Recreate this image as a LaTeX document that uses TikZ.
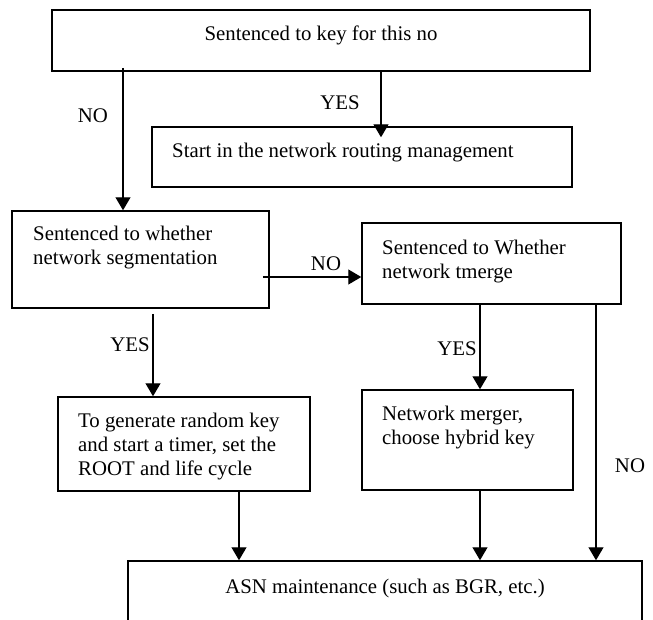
\documentclass[tikz,border=0pt]{standalone}
\usepackage{fontspec}
\setmainfont{Liberation Serif}
\usetikzlibrary{arrows.meta}

\begin{document}
\begin{tikzpicture}[x=1pt,y=-1pt,
  every node/.style={font=\fontsize{20.8}{24}\selectfont},
  box/.style={draw, line width=1.5pt, inner sep=0pt},
  txt/.style={inner sep=0pt},
  lbl/.style={inner sep=0pt},
  arr/.style={line width=1.3pt, -{Triangle[length=13pt,width=15pt]}}]

% page frame
\clip (0,0) rectangle (653,619);

% boxes
\node[box, minimum width=538, minimum height=61]  (top)    at (321,40.5)  {};
\node[box, minimum width=420, minimum height=60]  (start)  at (362,157)   {};
\node[box, minimum width=257, minimum height=97]  (seg)    at (140.5,259.5) {};
\node[box, minimum width=259, minimum height=81]  (merge)  at (491.5,263.5) {};
\node[box, minimum width=252, minimum height=94]  (rand)   at (184,444)   {};
\node[box, minimum width=211, minimum height=100] (merger) at (467.5,440) {};
\node[box, minimum width=514, minimum height=80]  (asn)    at (385,601)   {};

% box texts
\node[txt, anchor=base] (ttop) at (321,40) {Sentenced to key for this no};
\node[txt, anchor=base west] (tstart) at (172,157) {Start in the network routing management};
\node[txt, anchor=base west] (tseg) at (33,240)
  {\begin{tabular}[t]{@{}l@{}}Sentenced to whether\\network segmentation\end{tabular}};
\node[txt, anchor=base west] (tmerge) at (382,254)
  {\begin{tabular}[t]{@{}l@{}}Sentenced to Whether\\network tmerge\end{tabular}};
\node[txt, anchor=base west] (trand) at (78,427)
  {\begin{tabular}[t]{@{}l@{}}To generate random key\\and start a timer, set the\\ROOT and life cycle\end{tabular}};
\node[txt, anchor=base west] (tmerger) at (382,420)
  {\begin{tabular}[t]{@{}l@{}}Network merger,\\choose hybrid key\end{tabular}};
\node[txt, anchor=base] (tasn) at (385,593) {ASN maintenance (such as BGR, etc.)};

% connector columns and rows
\coordinate (xa) at (123,0);
\coordinate (xb) at (381,0);
\coordinate (xc) at (153,0);
\coordinate (xd) at (480,0);
\coordinate (xe) at (596,0);
\coordinate (xf) at (239,0);
\coordinate (yg) at (0,277);

% connectors
\draw[arr, shorten <=-4pt] (top.south -| xa) -- (seg.north -| xa);
\draw[arr, shorten >=-11pt] (top.south -| xb) -- (start.north -| xb);
\draw[arr, shorten <=-7pt] (seg.east |- yg) -- (merge.west |- yg);
\draw[arr, shorten <=5pt] (seg.south -| xc) -- (rand.north -| xc);
\draw[arr] (merge.south -| xd) -- (merger.north -| xd);
\draw[arr] (merge.south -| xe) -- (asn.north -| xe);
\draw[arr] (rand.south -| xf) -- (asn.north -| xf);
\draw[arr] (merger.south -| xd) -- (asn.north -| xd);

% branch labels
\node[lbl] (lno1)  at (93,116)  {NO};
\node[lbl] (lyes1) at (340,103) {YES};
\node[lbl] (lno2)  at (326,264) {NO};
\node[lbl] (lyes2) at (130,345) {YES};
\node[lbl] (lyes3) at (457,349) {YES};
\node[lbl] (lno3)  at (630,466) {NO};
\end{tikzpicture}
\end{document}
